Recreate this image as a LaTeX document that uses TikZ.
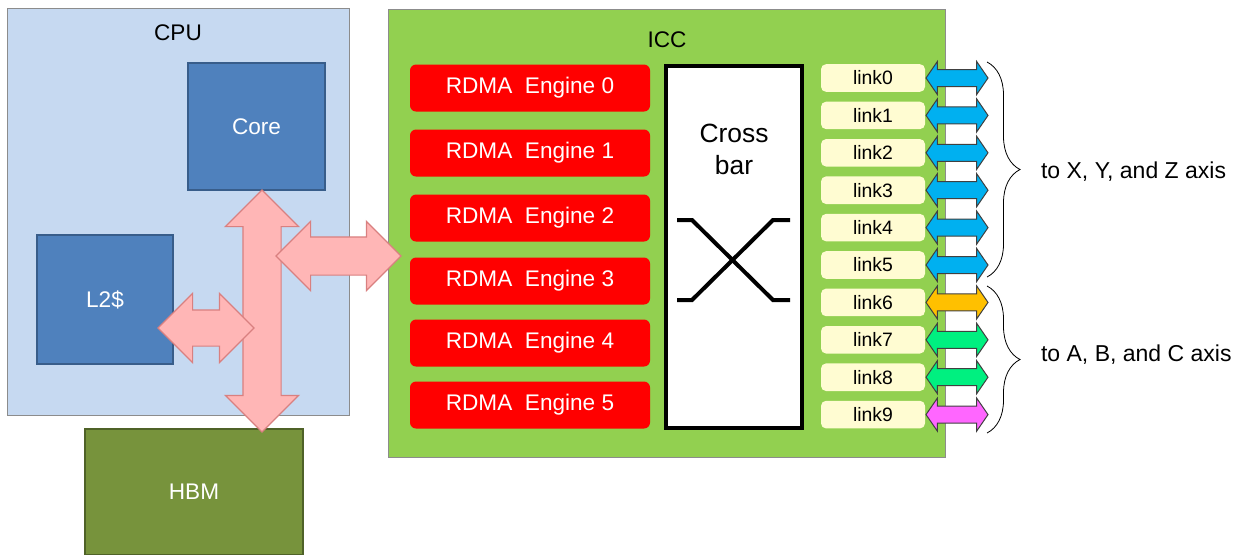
\documentclass[tikz,border=0pt]{standalone}
\usepackage{fontspec}
\setmainfont{Liberation Sans}
\usepackage[HTML]{xcolor}
\usepackage{tikz}
\usetikzlibrary{positioning, arrows.meta, shapes.arrows, decorations.pathreplacing}

\definecolor{cpublue}{HTML}{C6D9F1}
\definecolor{coreblue}{HTML}{4F81BD}
\definecolor{coreedge}{HTML}{385D8A}
\definecolor{hbmgreen}{HTML}{77933C}
\definecolor{hbmedge}{HTML}{4F6228}
\definecolor{iccgreen}{HTML}{92D050}
\definecolor{linkfill}{HTML}{FFFCD2}
\definecolor{busfill}{HTML}{FFB6B6}
\definecolor{busedge}{HTML}{D98080}
\definecolor{linkblue}{HTML}{00B0F0}
\definecolor{linkorange}{HTML}{FFC000}
\definecolor{linkgreen}{HTML}{00F080}
\definecolor{linkpink}{HTML}{FF66FF}

\tikzset{
  unit/.style={draw=coreedge,line width=1pt,fill=coreblue,text=white},
  engine/.style={fill=red,rounded corners=3pt,minimum width=120pt,minimum height=23.5pt,text=white},
  linkbox/.style={fill=linkfill,rounded corners=2.5pt,minimum width=52pt,minimum height=13.5pt,font=\fontsize{9.7}{11}\selectfont},
  linkarrow/.style={double arrow,draw=black!75,line width=0.5pt,fill=#1,inner xsep=0pt,inner ysep=4pt,
    minimum height=31pt,minimum width=16pt,double arrow head extend=4pt,double arrow tip angle=111},
  bus/.style={double arrow,draw=busedge,line width=0.6pt,fill=busfill,inner xsep=0pt,double arrow tip angle=90}
}

\begin{document}
\begin{tikzpicture}[x=0.5pt,y=-0.5pt,font=\fontsize{11.3}{13.5}\selectfont]
\useasboundingbox (0,0) rectangle (1245,554);

% CPU side
\node[draw=black!45,fill=cpublue,minimum width=171pt,minimum height=203.5pt] (cpu) at (178,211.5) {};
\node (cpulabel) at (178,33) {CPU};
\node[unit,minimum width=68.5pt,minimum height=63.5pt] (core) at (256.5,126.5) {Core};
\node[unit,minimum width=68pt,minimum height=64.5pt] (l2) at (105,299.5) {L2\$};
\node[draw=hbmedge,line width=1pt,fill=hbmgreen,text=white,minimum width=109pt,minimum height=63pt] (hbm) at (194,492) {HBM};

% ICC side
\node[draw=black!45,fill=iccgreen,minimum width=278.5pt,minimum height=224pt] (icc) at (666.5,233) {};
\node (icclabel) at (667,40) {ICC};
\foreach \i/\y in {0/88,1/153,2/218,3/281,4/343,5/405}
  \node[engine] (rdma\i) at (530,\y) {RDMA\ \ Engine \i};

\node[draw=black,line width=2pt,fill=white,minimum width=68pt,minimum height=181pt] (xbar) at (733.5,247) {};
\node[font=\fontsize{13.2}{16}\selectfont,align=center] (xbarlabel) at (734,149) {Cross\\bar};
\draw[line width=2pt] (677,220) -- (692,220) -- (773,300) -- (790,300);
\draw[line width=2pt] (677,300) -- (692,300) -- (773,220) -- (790,220);

\foreach \i/\c in {0/linkblue,1/linkblue,2/linkblue,3/linkblue,4/linkblue,5/linkblue,6/linkorange,7/linkgreen,8/linkgreen,9/linkpink}{
  \node[linkbox] (link\i) at (873,{78+37.4*\i}) {link\i};
  \node[linkarrow=\c] (port\i) at (957,{78+37.4*\i}) {};
}

% braces to the outside
\draw[decorate,decoration={brace,amplitude=16.5pt}] (987,62) -- (987,277);
\draw[decorate,decoration={brace,amplitude=16.5pt}] (987,286) -- (987,433);
\node[anchor=west,font=\fontsize{11.5}{13.5}\selectfont] (xyz) at (1034,172) {to X, Y, and Z axis};
\node[anchor=west,font=\fontsize{11.5}{13.5}\selectfont] (abc) at (1034,355) {to A, B, and C axis};

% buses
\node[bus,rotate=90,inner ysep=9.25pt,minimum height=121pt,minimum width=36pt,double arrow head extend=8.75pt] (membus) at (262,311) {};
\node[bus,inner ysep=9.25pt,minimum height=62.5pt,minimum width=34pt,double arrow head extend=7.75pt] (iccbus) at (338.5,256) {};
\node[bus,inner ysep=8.75pt,minimum height=48pt,minimum width=34pt,double arrow head extend=8.25pt] (l2bus) at (206,328) {};
\end{tikzpicture}
\end{document}
